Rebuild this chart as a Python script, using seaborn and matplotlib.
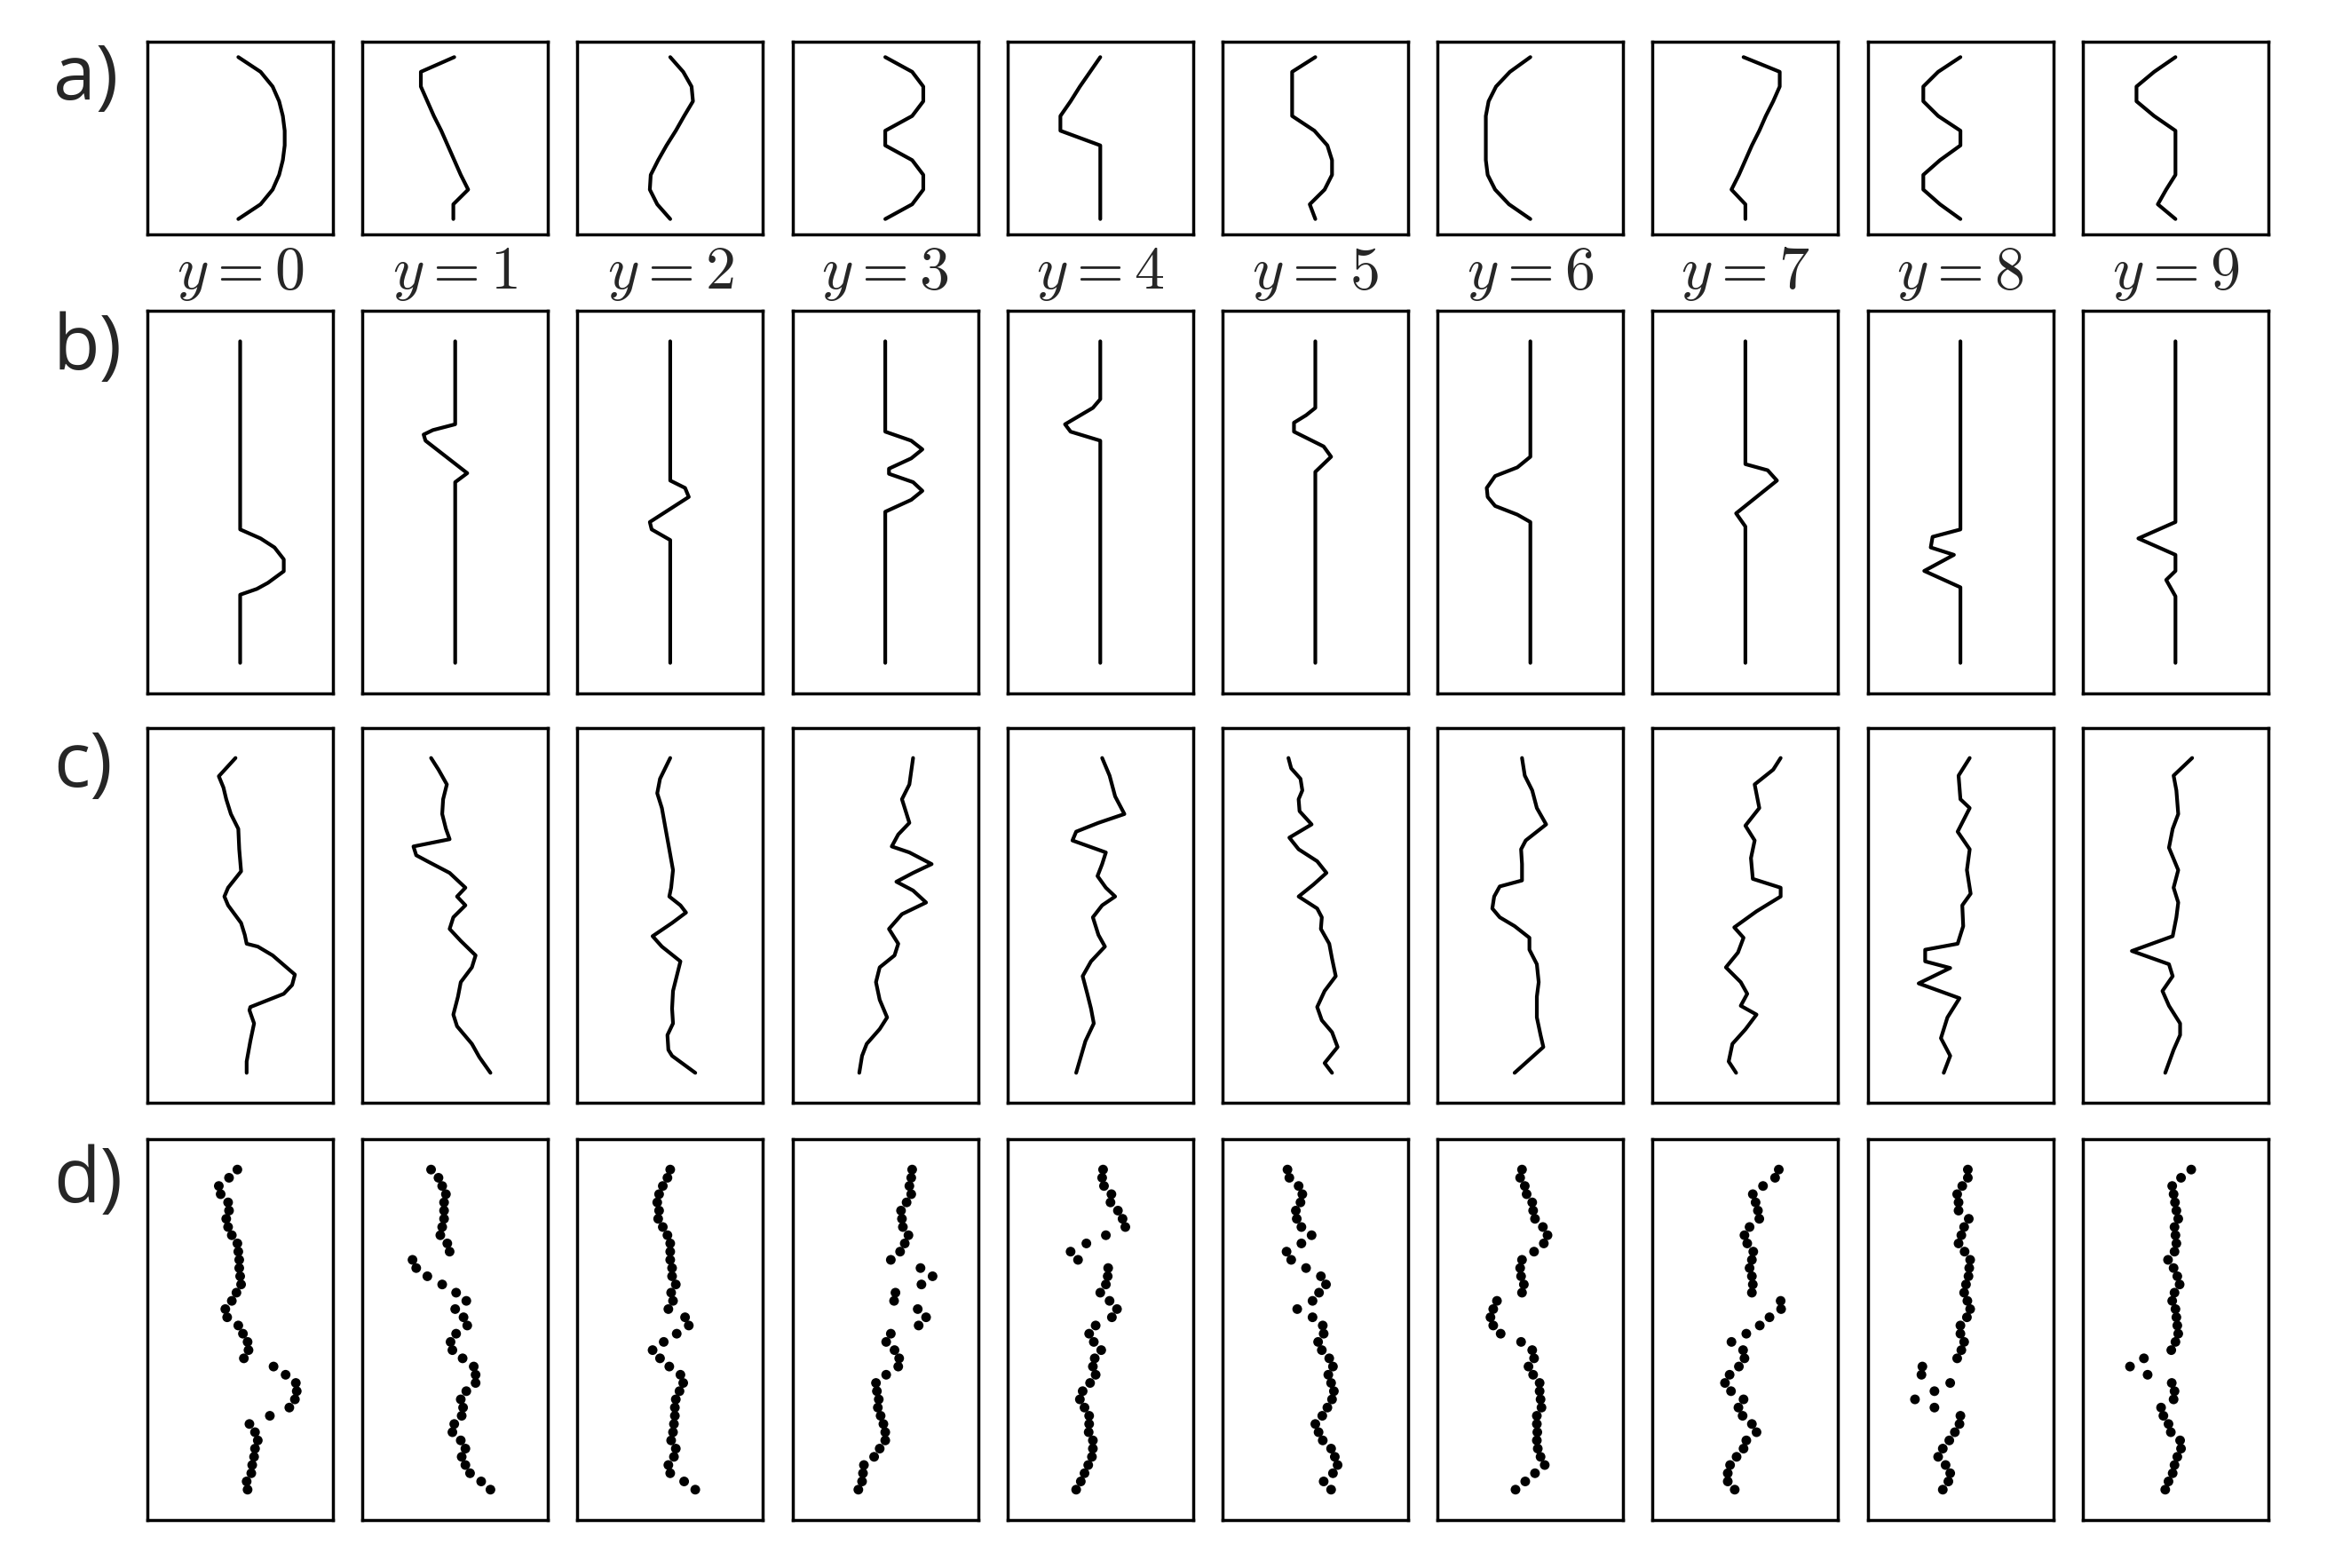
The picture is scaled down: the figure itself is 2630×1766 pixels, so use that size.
import numpy as np
import pandas as pd
import matplotlib
matplotlib.use('Agg')
import matplotlib.pyplot as plt
import seaborn as sns

# class labels shown under row a
digits = ['0', '1', '2', '3', '4', '5', '6', '7', '8', '9']
row_names = ['a)', 'b)', 'c)', 'd)']

# row a: 12 samples per shape, horizontal offset (panel half-width = 1)
row_a_x = [
    [-0.02, 0.22, 0.35, 0.42, 0.46, 0.48, 0.48, 0.46, 0.42, 0.35, 0.22, -0.02],
    [-0.01, -0.37, -0.37, -0.30, -0.23, -0.15, -0.08, -0.01, 0.06, 0.14, -0.02, -0.02],
    [0.0, 0.14, 0.23, 0.245, 0.15, 0.06, -0.04, -0.13, -0.21, -0.22, -0.14, 0.0],
    [0.0, 0.29, 0.41, 0.41, 0.29, 0.0, 0.0, 0.29, 0.41, 0.41, 0.29, 0.0],
    [0.0, -0.11, -0.22, -0.32, -0.43, -0.43, 0.0, 0.0, 0.0, 0.0, 0.0, 0.0],
    [0.0, -0.25, -0.25, -0.25, -0.25, -0.01, 0.13, 0.18, 0.18, 0.10, -0.06, 0.0],
    [0.0, -0.22, -0.37, -0.45, -0.48, -0.48, -0.48, -0.48, -0.46, -0.38, -0.23, 0.0],
    [-0.02, 0.37, 0.37, 0.30, 0.22, 0.15, 0.07, 0.0, -0.07, -0.15, 0.0, 0.0],
    [0.0, -0.24, -0.40, -0.40, -0.24, 0.0, 0.0, -0.22, -0.40, -0.40, -0.22, 0.0],
    [0.0, -0.23, -0.42, -0.42, -0.23, 0.0, 0.0, 0.0, 0.0, -0.10, -0.19, 0.0],
]

# row b: vertices (t from top 0 to bottom 1, offset)
row_b_t = [
    [0, 0.585, 0.613, 0.641, 0.678, 0.715, 0.751, 0.770, 0.788, 1.0],
    [0, 0.258, 0.276, 0.290, 0.309, 0.410, 0.438, 1.0],
    [0, 0.433, 0.456, 0.484, 0.562, 0.585, 0.618, 1.0],
    [0, 0.281, 0.309, 0.336, 0.364, 0.396, 0.412, 0.438, 0.465, 0.493, 0.530, 1.0],
    [0, 0.180, 0.207, 0.258, 0.281, 0.309, 1.0],
    [0, 0.207, 0.230, 0.253, 0.281, 0.327, 0.359, 0.406, 1.0],
    [0, 0.359, 0.392, 0.419, 0.456, 0.484, 0.512, 0.539, 0.562, 1.0],
    [0, 0.382, 0.401, 0.433, 0.535, 0.576, 1.0],
    [0, 0.585, 0.608, 0.641, 0.664, 0.714, 0.765, 1.0],
    [0, 0.562, 0.613, 0.664, 0.714, 0.742, 0.793, 1.0],
]
row_b_x = [
    [0, 0, 0.22, 0.37, 0.47, 0.47, 0.30, 0.18, 0, 0],
    [0, 0, -0.24, -0.34, -0.32, 0.13, 0, 0],
    [0, 0, 0.16, 0.20, -0.22, -0.20, 0, 0],
    [0, 0, 0.28, 0.40, 0.28, 0.04, 0.04, 0.30, 0.40, 0.28, 0, 0],
    [0, 0, -0.08, -0.38, -0.32, 0, 0],
    [0, 0, -0.10, -0.23, -0.23, 0.09, 0.17, 0, 0],
    [0, 0, -0.14, -0.38, -0.47, -0.46, -0.38, -0.14, 0, 0],
    [0, 0, 0.24, 0.34, -0.10, 0, 0],
    [0, 0, -0.30, -0.32, -0.07, -0.39, 0, 0],
    [0, 0, -0.40, 0, 0, -0.10, 0, 0],
]

# row c: noisy versions, vertices (t, offset)
row_c_t = [
    [0, 0.058, 0.094, 0.131, 0.178, 0.225, 0.290, 0.360, 0.412, 0.440, 0.468, 0.524, 0.562,
     0.590, 0.599, 0.627, 0.655, 0.688, 0.721, 0.749, 0.791, 0.801, 0.843, 0.899, 0.964, 1.0],
    [0, 0.037, 0.084, 0.131, 0.178, 0.225, 0.258, 0.281, 0.309, 0.328, 0.365, 0.412, 0.440,
     0.468, 0.506, 0.543, 0.581, 0.627, 0.665, 0.712, 0.758, 0.815, 0.852, 0.908, 0.950, 1.0],
    [0, 0.066, 0.112, 0.159, 0.225, 0.290, 0.356, 0.412, 0.440, 0.468, 0.491, 0.524, 0.566,
     0.599, 0.646, 0.693, 0.740, 0.796, 0.843, 0.880, 0.927, 0.946, 1.0],
    [0, 0.084, 0.131, 0.206, 0.243, 0.281, 0.300, 0.337, 0.365, 0.393, 0.421, 0.459, 0.496,
     0.543, 0.590, 0.627, 0.665, 0.712, 0.768, 0.824, 0.861, 0.908, 0.946, 1.0],
    [0, 0.056, 0.122, 0.178, 0.206, 0.234, 0.262, 0.300, 0.337, 0.375, 0.412, 0.440, 0.468,
     0.506, 0.562, 0.599, 0.646, 0.693, 0.749, 0.796, 0.843, 0.899, 1.0],
    [0, 0.033, 0.066, 0.103, 0.131, 0.169, 0.211, 0.253, 0.290, 0.328, 0.365, 0.402, 0.440,
     0.478, 0.506, 0.543, 0.590, 0.637, 0.693, 0.740, 0.791, 0.833, 0.871, 0.918, 0.969, 1.0],
    [0, 0.056, 0.103, 0.159, 0.211, 0.262, 0.290, 0.337, 0.389, 0.408, 0.440, 0.478, 0.506,
     0.534, 0.571, 0.609, 0.655, 0.712, 0.758, 0.824, 0.880, 0.918, 1.0],
    [0, 0.037, 0.084, 0.159, 0.215, 0.262, 0.318, 0.384, 0.412, 0.440, 0.487, 0.538, 0.571,
     0.618, 0.665, 0.712, 0.749, 0.787, 0.815, 0.862, 0.908, 0.964, 1.0],
    [0, 0.056, 0.131, 0.159, 0.234, 0.290, 0.356, 0.431, 0.468, 0.534, 0.590, 0.609, 0.646,
     0.667, 0.716, 0.763, 0.824, 0.890, 0.946, 1.0],
    [0, 0.056, 0.103, 0.178, 0.225, 0.285, 0.356, 0.412, 0.459, 0.506, 0.566, 0.613, 0.655,
     0.693, 0.740, 0.787, 0.843, 0.880, 0.927, 1.0],
]
row_c_x = [
    [-0.05, -0.23, -0.18, -0.15, -0.10, -0.02, -0.01, 0.01, -0.13, -0.17, -0.13, 0.01, 0.05,
     0.07, 0.19, 0.35, 0.46, 0.59, 0.56, 0.47, 0.11, 0.10, 0.15, 0.11, 0.07, 0.07],
    [-0.26, -0.18, -0.09, -0.13, -0.14, -0.10, -0.06, -0.45, -0.42, -0.30, -0.06, 0.11, 0.02,
     0.11, -0.02, -0.06, 0.06, 0.22, 0.18, 0.06, 0.03, -0.02, 0.02, 0.18, 0.26, 0.38],
    [0.0, -0.11, -0.14, -0.09, -0.05, -0.01, 0.03, 0.01, -0.01, 0.11, 0.17, 0.02, -0.19,
     -0.09, 0.11, 0.07, 0.03, 0.02, 0.03, -0.03, -0.02, 0.02, 0.27],
    [0.30, 0.26, 0.18, 0.26, 0.14, 0.07, 0.26, 0.50, 0.30, 0.12, 0.30, 0.44, 0.18,
     0.04, 0.14, 0.10, -0.06, -0.10, -0.06, 0.02, -0.06, -0.20, -0.25, -0.28],
    [0.02, 0.10, 0.16, 0.26, -0.02, -0.26, -0.30, 0.06, 0.02, -0.03, 0.06, 0.16, 0.02,
     -0.08, -0.02, 0.05, -0.10, -0.19, -0.14, -0.10, -0.07, -0.16, -0.26],
    [-0.29, -0.26, -0.16, -0.14, -0.18, -0.17, -0.04, -0.28, -0.18, 0.02, 0.12, -0.02, -0.18,
     0.02, 0.07, 0.06, 0.15, 0.18, 0.22, 0.10, 0.02, 0.07, 0.18, 0.24, 0.10, 0.18],
    [-0.09, -0.06, 0.02, 0.07, 0.17, -0.05, -0.10, -0.09, -0.09, -0.33, -0.39, -0.41, -0.33,
     -0.17, -0.01, -0.01, 0.07, 0.09, 0.07, 0.07, 0.11, 0.14, -0.17],
    [0.38, 0.30, 0.10, 0.15, 0.0, 0.10, 0.06, 0.08, 0.38, 0.38, 0.12, -0.12, -0.02,
     -0.08, -0.21, -0.05, 0.02, -0.05, 0.12, 0.0, -0.14, -0.18, -0.10],
    [0.10, -0.02, 0.0, 0.10, -0.03, 0.10, 0.07, 0.11, 0.02, 0.03, -0.03, -0.38, -0.38,
     -0.11, -0.45, -0.01, -0.14, -0.21, -0.11, -0.18],
    [0.18, -0.02, 0.01, 0.03, -0.03, -0.07, 0.03, -0.02, 0.03, 0.01, -0.03, -0.47, -0.07,
     -0.03, -0.14, -0.07, 0.05, 0.05, -0.02, -0.11],
]

# row d: 40 evenly spaced dots per panel, horizontal offset
row_d_x = [
    [-0.03, -0.12, -0.23, -0.21, -0.13, -0.12, -0.15, -0.13, -0.09, -0.03,
     -0.02, -0.01, -0.01, 0.0, 0.01, -0.04, -0.09, -0.16, -0.14, -0.02,
     0.03, 0.08, 0.09, 0.04, 0.36, 0.49, 0.60, 0.61, 0.59, 0.53,
     0.32, 0.10, 0.16, 0.19, 0.16, 0.15, 0.13, 0.12, 0.07, 0.08],
    [-0.26, -0.18, -0.14, -0.10, -0.12, -0.12, -0.12, -0.14, -0.16, -0.085,
     -0.06, -0.46, -0.42, -0.30, -0.14, 0.01, 0.12, 0.0, 0.09, 0.13,
     0.01, -0.05, -0.03, 0.08, 0.20, 0.22, 0.22, 0.12, 0.06, 0.085,
     0.07, -0.01, -0.03, 0.06, 0.11, 0.07, 0.11, 0.16, 0.28, 0.38],
    [0.0, -0.03, -0.08, -0.12, -0.14, -0.12, -0.13, -0.08, -0.03, 0.0,
     0.0, 0.0, 0.02, 0.02, 0.06, 0.01, 0.03, -0.02, 0.16, 0.20,
     0.07, -0.07, -0.19, -0.11, -0.01, 0.11, 0.14, 0.10, 0.06, 0.05,
     0.05, 0.04, 0.03, 0.01, 0.06, 0.04, -0.02, 0.0, 0.15, 0.27],
    [0.29, 0.28, 0.26, 0.28, 0.23, 0.17, 0.18, 0.19, 0.25, 0.21,
     0.16, 0.06, 0.38, 0.51, 0.39, 0.11, 0.095, 0.35, 0.44, 0.36,
     0.06, 0.01, 0.10, 0.15, 0.14, 0.01, -0.10, -0.09, -0.07, -0.08,
     -0.05, -0.02, 0.0, 0.0, -0.06, -0.12, -0.23, -0.24, -0.25, -0.29],
    [0.03, 0.02, 0.04, 0.12, 0.11, 0.19, 0.24, 0.27, 0.06, -0.15,
     -0.32, -0.24, 0.085, 0.08, 0.06, 0.0, 0.10, 0.18, 0.125, -0.05,
     -0.12, -0.07, 0.01, -0.06, -0.08, -0.05, -0.11, -0.19, -0.22, -0.17,
     -0.12, -0.12, -0.125, -0.08, -0.08, -0.09, -0.13, -0.17, -0.21, -0.26],
    [-0.30, -0.28, -0.18, -0.14, -0.16, -0.21, -0.20, -0.15, -0.04, -0.15,
     -0.31, -0.26, -0.10, 0.06, 0.115, 0.04, -0.03, -0.195, -0.03, 0.08,
     0.09, 0.03, 0.07, 0.15, 0.19, 0.14, 0.17, 0.20, 0.18, 0.13,
     0.075, 0.0, 0.035, 0.08, 0.17, 0.21, 0.24, 0.19, 0.09, 0.17],
    [-0.09, -0.11, -0.06, -0.04, 0.02, 0.03, 0.05, 0.135, 0.185, 0.145,
     0.04, -0.09, -0.11, -0.10, -0.07, -0.09, -0.36, -0.40, -0.43, -0.40,
     -0.32, -0.10, 0.02, 0.04, -0.02, 0.03, 0.10, 0.10, 0.11, 0.12,
     0.07, 0.07, 0.075, 0.07, 0.08, 0.11, 0.155, 0.05, -0.055, -0.16],
    [0.36, 0.32, 0.19, 0.08, 0.11, 0.135, 0.15, 0.045, -0.01, 0.02,
     0.085, 0.07, 0.045, 0.07, 0.08, 0.07, 0.38, 0.385, 0.26, 0.155,
     0.01, -0.15, -0.025, -0.01, -0.07, -0.17, -0.22, -0.155, -0.02, -0.075,
     -0.03, 0.07, 0.12, 0.01, -0.02, -0.095, -0.165, -0.19, -0.19, -0.115],
    [0.08, 0.08, 0.02, -0.035, -0.02, -0.02, 0.09, 0.04, 0.01, -0.02,
     0.045, 0.105, 0.095, 0.087, 0.06, 0.04, 0.075, 0.105, 0.07, 0.0,
     0.0, 0.04, 0.01, -0.035, -0.41, -0.42, -0.11, -0.28, -0.49, -0.28,
     0.0, -0.01, -0.06, -0.12, -0.19, -0.24, -0.16, -0.11, -0.13, -0.19],
    [0.17, 0.06, -0.035, -0.02, -0.005, 0.01, 0.03, -0.01, 0.0, 0.01,
     -0.01, -0.08, -0.02, 0.02, 0.045, -0.01, -0.035, 0.0, 0.01, 0.02,
     0.03, 0.0, -0.045, -0.34, -0.49, -0.30, -0.04, -0.01, -0.02, -0.155,
     -0.13, -0.075, -0.05, 0.05, 0.06, 0.02, -0.01, -0.03, -0.075, -0.11],
]

sns.set_style('white')
plt.rcParams['mathtext.fontset'] = 'cm'

W, H = 2630, 1766
fig = plt.figure(figsize=(W / 100, H / 100), dpi=100)
fig.patch.set_facecolor('white')

# panel rows (top, bottom) in pixels
row_px = [(47, 264), (350, 781), (820, 1242), (1283, 1712)]
col_left, col_step, panel_w = 166, 242.2, 209
LW = 3.0


def make_ax(r, j):
    top, bot = row_px[r]
    left = col_left + j * col_step
    ax = fig.add_axes([left / W, 1 - bot / H, panel_w / W, (bot - top) / H])
    ax.set_xlim(-1, 1)
    ax.set_ylim(1.095, -0.095)
    ax.set_xticks([])
    ax.set_yticks([])
    for s in ax.spines.values():
        s.set_visible(True)
        s.set_color('black')
        s.set_linewidth(2.5)
    return ax


for j in range(10):
    # a) clean shapes
    ax = make_ax(0, j)
    t_a = np.linspace(0, 1, len(row_a_x[j]))
    df = pd.DataFrame({'x': row_a_x[j], 't': t_a})
    sns.lineplot(data=df, x='x', y='t', sort=False, estimator=None,
                 color='black', linewidth=LW, ax=ax)
    ax.set_xlabel('')
    ax.set_ylabel('')
    ax.text(0.5, -0.05, f'$y={digits[j]}$', transform=ax.transAxes,
            ha='center', va='top', fontsize=49)

    # b) shape embedded in a long line
    ax = make_ax(1, j)
    df = pd.DataFrame({'x': row_b_x[j], 't': row_b_t[j]})
    sns.lineplot(data=df, x='x', y='t', sort=False, estimator=None,
                 color='black', linewidth=LW, ax=ax)
    ax.set_xlabel('')
    ax.set_ylabel('')

    # c) noisy line
    ax = make_ax(2, j)
    df = pd.DataFrame({'x': row_c_x[j], 't': row_c_t[j]})
    sns.lineplot(data=df, x='x', y='t', sort=False, estimator=None,
                 color='black', linewidth=LW, ax=ax)
    ax.set_xlabel('')
    ax.set_ylabel('')

    # d) dots
    ax = make_ax(3, j)
    t_d = np.linspace(0, 1, len(row_d_x[j]))
    df = pd.DataFrame({'x': row_d_x[j], 't': t_d})
    sns.scatterplot(data=df, x='x', y='t', s=62, color='black',
                    edgecolor='none', legend=False, ax=ax)
    ax.set_xlabel('')
    ax.set_ylabel('')

label_top = [47, 350, 820, 1288]
for name, top in zip(row_names, label_top):
    fig.text(60 / W, 1 - top / H, name, fontsize=62, family='Open Sans',
             ha='left', va='top')

fig.savefig('out.png', dpi=100, facecolor='white')
